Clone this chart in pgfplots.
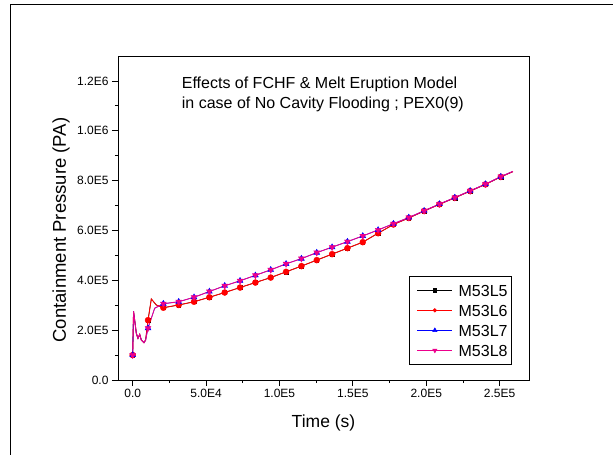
\documentclass[border=0pt]{standalone}
\usepackage{pgfplots}
\usepackage{pgfplotstable}
\pgfplotsset{compat=1.18}
\usepackage{fontspec}
\setmainfont{Liberation Sans}

\pgfplotstableread{
t p m
0 1.00e5 1
600 2.75e5 0
2500 1.87e5 0
3600 1.67e5 0
4800 1.83e5 0
5900 1.60e5 0
7700 1.50e5 0
8800 1.60e5 0
10450 2.40e5 1
12700 3.25e5 0
16100 3.01e5 0
20900 2.90e5 1
31350 3.01e5 1
41800 3.14e5 1
52250 3.32e5 1
62700 3.51e5 1
73150 3.71e5 1
83600 3.91e5 1
94050 4.11e5 1
104500 4.34e5 1
114950 4.57e5 1
125400 4.81e5 1
135850 5.05e5 1
146300 5.29e5 1
156750 5.53e5 1
167200 5.89e5 1
177650 6.24e5 1
188100 6.50e5 1
198550 6.78e5 1
209000 7.05e5 1
219450 7.31e5 1
229900 7.58e5 1
240350 7.85e5 1
250800 8.15e5 1
259000 8.36e5 0
}\tabLfiveLsix

\pgfplotstableread{
t p m
0 1.00e5 1
600 2.75e5 0
2500 1.87e5 0
3600 1.67e5 0
4800 1.83e5 0
5900 1.60e5 0
7700 1.50e5 0
8800 1.60e5 0
10450 2.08e5 1
15000 2.88e5 0
20900 3.06e5 1
31350 3.14e5 1
41800 3.32e5 1
52250 3.55e5 1
62700 3.78e5 1
73150 3.98e5 1
83600 4.20e5 1
94050 4.42e5 1
104500 4.66e5 1
114950 4.87e5 1
125400 5.11e5 1
135850 5.33e5 1
146300 5.55e5 1
156750 5.78e5 1
167200 6.02e5 1
177650 6.27e5 1
188100 6.52e5 1
198550 6.79e5 1
209000 7.06e5 1
219450 7.32e5 1
229900 7.59e5 1
240350 7.86e5 1
250800 8.16e5 1
259000 8.37e5 0
}\tabLsevenLeight

\begin{document}
\begin{tikzpicture}
\begin{axis}[
  at={(0pt,0pt)}, anchor=south west,
  scale only axis, width=411pt, height=324pt,
  xmin=-10000, xmax=270000, ymin=0, ymax=1.3e6,
  axis line style={line width=0.8pt},
  tick align=outside, tick pos=left,
  major tick length=6pt, minor tick length=3pt,
  every tick/.style={black, line width=0.8pt},
  xtick={0,50000,100000,150000,200000,250000},
  xticklabels={0.0,5.0E4,1.0E5,1.5E5,2.0E5,2.5E5},
  minor x tick num=1,
  ytick={0,200000,400000,600000,800000,1000000,1200000},
  yticklabels={0.0,2.0E5,4.0E5,6.0E5,8.0E5,1.0E6,1.2E6},
  minor y tick num=1,
  scaled ticks=false,
  ticklabel style={font=\fontsize{12}{14}\selectfont},
  xlabel={Time (s)}, ylabel={Containment Pressure (PA)},
  xlabel style={font=\fontsize{17.5}{20}\selectfont, at={(rel axis cs:0.5,0)}, anchor=center, yshift=-43pt},
  ylabel style={font=\fontsize{18.5}{21}\selectfont, at={(rel axis cs:0,0.5)}, anchor=center, yshift=57pt, xshift=-12pt},
  legend style={at={(rel axis cs:0.9586,0.0463)}, anchor=south east,
    draw=black, line width=0.8pt, font=\fontsize{16}{19}\selectfont,
    inner xsep=4pt, inner ysep=8.5pt, row sep=8.5pt,
    nodes={inner sep=0pt, text height=11.5pt, text depth=0pt},
    /tikz/every odd column/.append style={column sep=6pt}},
  legend cell align=left,
  legend image code/.code={%
    \path (0pt,0pt);
    \draw[mark repeat=2,mark phase=2] plot coordinates {(4pt,0pt) (21.5pt,0pt) (39pt,0pt)};},
]
% M53L5
\addplot[black, line width=0.6pt, no marks, forget plot] table[x=t,y=p]{\tabLfiveLsix};
\addplot[black, only marks, mark=square*, mark size=1.9pt, forget plot,
  restrict expr to domain={\thisrow{m}}{0.5:1.5}] table[x=t,y=p]{\tabLfiveLsix};
% M53L6
\addplot[red, line width=0.9pt, no marks, forget plot] table[x=t,y=p]{\tabLfiveLsix};
\addplot[red, only marks, mark=*, mark size=3pt, forget plot,
  restrict expr to domain={\thisrow{m}}{0.5:1.5}] table[x=t,y=p]{\tabLfiveLsix};
% M53L7
\addplot[blue, line width=0.6pt, no marks, forget plot] table[x=t,y=p]{\tabLsevenLeight};
\addplot[blue, only marks, mark=triangle*, mark size=3.4pt, forget plot,
  restrict expr to domain={\thisrow{m}}{0.5:1.5}] table[x=t,y=p]{\tabLsevenLeight};
% M53L8
\addplot[magenta, line width=0.9pt, no marks, forget plot] table[x=t,y=p]{\tabLsevenLeight};
\addplot[magenta, only marks, mark=triangle*, mark size=3.4pt, mark options={rotate=180}, forget plot,
  restrict expr to domain={\thisrow{m}}{0.5:1.5}] table[x=t,y=p]{\tabLsevenLeight};

\addlegendimage{black, line width=0.6pt, mark=square*, mark size=1.6pt}
\addlegendentry{M53L5}
\addlegendimage{red, line width=0.6pt, mark=*, mark size=1.8pt}
\addlegendentry{M53L6}
\addlegendimage{blue, line width=0.6pt, mark=triangle*, mark size=2.4pt}
\addlegendentry{M53L7}
\addlegendimage{magenta, line width=0.6pt, mark=triangle*, mark size=2.4pt, mark options={rotate=180}}
\addlegendentry{M53L8}
\end{axis}

\node[anchor=base west, inner sep=0pt, font=\fontsize{16}{19}\selectfont] at (63.7pt,291.7pt) {Effects of FCHF \& Melt Eruption Model};
\node[anchor=base west, inner sep=0pt, font=\fontsize{16}{19}\selectfont] at (63.7pt,271pt) {in case of No Cavity Flooding ; PEX0(9)};

\draw[line width=1pt] (-107pt,-80pt) -- (-107pt,375.7pt) -- (500pt,375.7pt);

\pgfresetboundingbox
\path[use as bounding box] (-118pt,-75pt) rectangle (495pt,380pt);
\end{tikzpicture}
\end{document}
